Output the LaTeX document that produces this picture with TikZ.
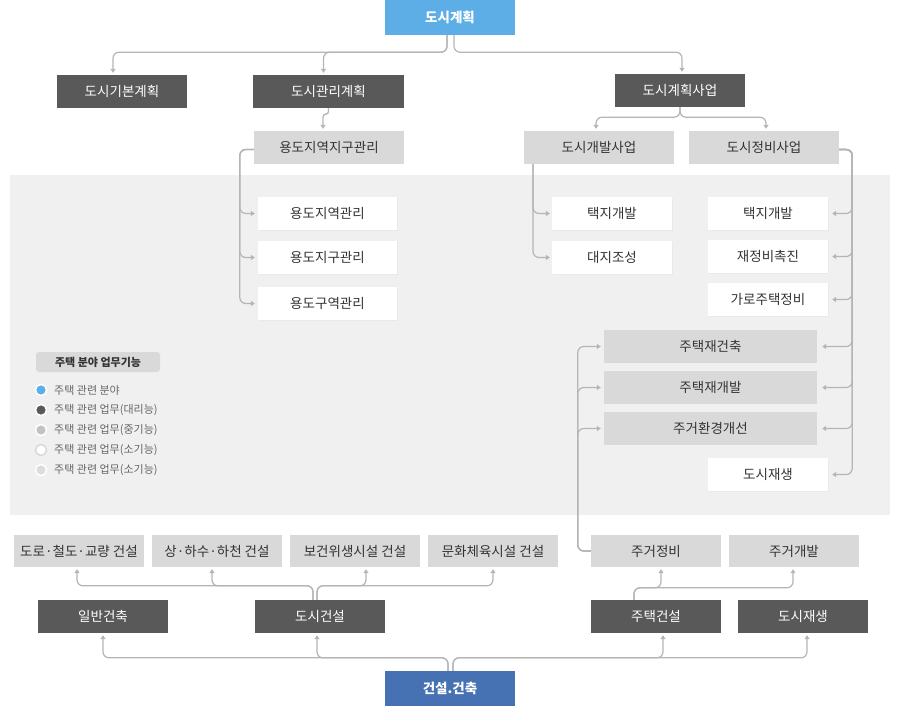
\documentclass[tikz,border=0pt]{standalone}
\usepackage{fontspec}
\setmainfont{Noto Sans CJK KR}
\usepackage{xcolor}
\usetikzlibrary{calc, arrows.meta, shadows}

\definecolor{planblue}{HTML}{5DADE6}
\definecolor{buildblue}{HTML}{4672B4}
\definecolor{boxdark}{HTML}{595959}
\definecolor{boxgrey}{HTML}{D9D9D9}
\definecolor{panelgrey}{HTML}{F0F0F0}
\definecolor{linegrey}{HTML}{B5B5B5}
\definecolor{textgrey}{HTML}{333333}
\definecolor{legendgrey}{HTML}{666666}
\definecolor{midgrey}{HTML}{C2C2C2}
\definecolor{lightgrey}{HTML}{DCDCDC}

\begin{document}
\begin{tikzpicture}[x=1pt, y=-1pt,
		box/.style={minimum width=130pt, minimum height=33pt, inner sep=0pt, text=textgrey, font=\fontsize{13.5pt}{16pt}\selectfont},
		bluebox/.style={box, minimum height=35pt, text=white, font=\fontsize{13.5pt}{16pt}\selectfont\bfseries},
		darkbox/.style={box, fill=boxdark, text=white},
		greybox/.style={box, fill=boxgrey},
		whitebox/.style={box, fill=white, drop shadow={opacity=0.06, shadow xshift=1pt, shadow yshift=-1pt}},
		link/.style={draw=linegrey, line width=1.2pt, rounded corners=6pt, -{Triangle[length=4pt, width=5pt]}, shorten >=2pt},
		dot/.style={circle, minimum size=11pt, inner sep=0pt, draw=white, line width=1.5pt},
		legendtext/.style={anchor=west, inner sep=0pt, text=legendgrey, font=\fontsize{11pt}{13pt}\selectfont}]

		\useasboundingbox (0,0) rectangle (900,726);
		\fill[panelgrey] (10,175) rectangle (890,515);

		\node[bluebox, fill=planblue] (cityplan) at (450,17.5) {도시계획};

		\node[darkbox] (basicplan) at (122,91.5) {도시기본계획};
		\node[darkbox, minimum width=151pt] (mgmtplan) at (328.5,91.5) {도시관리계획};
		\node[darkbox] (projplan) at (680,90.5) {도시계획사업};

		\node[greybox, minimum width=150pt] (zoning) at (329,147.5) {용도지역지구관리};
		\node[greybox, minimum width=150pt] (devproj) at (599,147.5) {도시개발사업};
		\node[greybox, minimum width=150pt] (renewproj) at (764,147.5) {도시정비사업};

		\node[whitebox, minimum width=139pt] (zonearea) at (327.5,213.5) {용도지역관리};
		\node[whitebox, minimum width=139pt] (zonedist) at (327.5,257.5) {용도지구관리};
		\node[whitebox, minimum width=139pt] (zonesect) at (327.5,303.5) {용도구역관리};

		\node[whitebox, minimum width=120pt] (landdev) at (612,213.5) {택지개발};
		\node[whitebox, minimum width=120pt] (sitework) at (612,257.5) {대지조성};

		\node[whitebox, minimum width=120pt] (landrenew) at (768,213.5) {택지개발};
		\node[whitebox, minimum width=120pt] (promote) at (768,256.5) {재정비촉진};
		\node[whitebox, minimum width=120pt] (street) at (768,299.5) {가로주택정비};

		\node[greybox, minimum width=213pt] (rebuild) at (710.5,346.5) {주택재건축};
		\node[greybox, minimum width=213pt] (redevelop) at (710.5,387.5) {주택재개발};
		\node[greybox, minimum width=213pt] (improve) at (710.5,428.5) {주거환경개선};
		\node[whitebox, minimum width=120pt] (regen) at (768,474.5) {도시재생};

		\node[box, fill=boxgrey, minimum width=124pt, minimum height=20pt, rounded corners=3pt, font=\fontsize{11pt}{13pt}\selectfont\bfseries] (legend) at (98,362) {주택 분야 업무기능};
		\node[dot, fill=planblue] (dotfield) at (41,390) {};
		\node[dot, fill=boxdark] (dotlarge) at (41,410) {};
		\node[dot, fill=midgrey] (dotmid) at (41,430) {};
		\node[dot, fill=white, draw=panelgrey!90!black] (dotsmall) at (41,450) {};
		\node[dot, fill=lightgrey] (dotsmalltoo) at (41,470) {};
		\node[legendtext] at (54,390) {주택 관련 분야};
		\node[legendtext] at (54,410) {주택 관련 업무(대리능)};
		\node[legendtext] at (54,430) {주택 관련 업무(중기능)};
		\node[legendtext] at (54,450) {주택 관련 업무(소기능)};
		\node[legendtext] at (54,470) {주택 관련 업무(소기능)};

		\node[greybox, minimum height=32pt] (road) at (79,551) {도로·철도·교량 건설};
		\node[greybox, minimum height=32pt] (sewer) at (217,551) {상·하수·하천 건설};
		\node[greybox, minimum height=32pt] (health) at (355,551) {보건위생시설 건설};
		\node[greybox, minimum height=32pt] (culture) at (493,551) {문화체육시설 건설};
		\node[greybox, minimum height=32pt] (resrenew) at (656,551) {주거정비};
		\node[greybox, minimum height=32pt] (resdev) at (794,551) {주거개발};

		\node[darkbox] (general) at (103,616.5) {일반건축};
		\node[darkbox] (cityconst) at (320,616.5) {도시건설};
		\node[darkbox] (housing) at (656,616.5) {주택건설};
		\node[darkbox] (regenwork) at (803,616.5) {도시재생};

		\node[bluebox, fill=buildblue] (construct) at (450,688.5) {건설.건축};

		\draw[link] ($(cityplan.south)+(-3,0)$) -- ++(0,17) -| ($(basicplan.north)+(-9,0)$);
		\draw[link] ($(cityplan.south)+(-3,0)$) -- ++(0,17) -| ($(mgmtplan.north)+(-5,0)$);
		\draw[link] ($(cityplan.south)+(4,0)$) -- ++(0,17) -| ($(projplan.north)+(2,0)$);

		\draw[link, rounded corners=3pt] (mgmtplan.south) -- ++(0,6) -| ($(zoning.north)+(-6,0)$);
		\draw[link] (projplan.south) -- ++(0,10) -| ($(devproj.north)+(-3,0)$);
		\draw[link] (projplan.south) -- ++(0,10) -| ($(renewproj.north)+(2,0)$);

		\draw[link, shorten >=3pt] ($(zoning.west)+(0,2)$) -| ($(zonearea.west)+(-18,0)$) -- (zonearea.west);
		\draw[link, shorten >=3pt] ($(zoning.west)+(0,2)$) -| ($(zonedist.west)+(-18,0)$) -- (zonedist.west);
		\draw[link, shorten >=3pt] ($(zoning.west)+(0,2)$) -| ($(zonesect.west)+(-18,0)$) -- (zonesect.west);

		\draw[link] ($(devproj.south)+(-66,0)$) |- (landdev.west);
		\draw[link] ($(devproj.south)+(-66,0)$) |- (sitework.west);

		\draw[link, shorten >=4pt] ($(renewproj.east)+(0,2)$) -| ($(landrenew.east)+(24,0)$) -- (landrenew.east);
		\draw[link, shorten >=4pt] ($(renewproj.east)+(0,2)$) -| ($(promote.east)+(24,0)$) -- (promote.east);
		\draw[link, shorten >=4pt] ($(renewproj.east)+(0,2)$) -| ($(street.east)+(24,0)$) -- (street.east);
		\draw[link, shorten >=5pt] ($(renewproj.east)+(0,2)$) -| ($(rebuild.east)+(35,0)$) -- (rebuild.east);
		\draw[link, shorten >=5pt] ($(renewproj.east)+(0,2)$) -| ($(redevelop.east)+(35,0)$) -- (redevelop.east);
		\draw[link, shorten >=5pt] ($(renewproj.east)+(0,2)$) -| ($(improve.east)+(35,0)$) -- (improve.east);
		\draw[link, shorten >=4pt] ($(renewproj.east)+(0,2)$) -| ($(regen.east)+(24,0)$) -- (regen.east);

		\draw[link, shorten >=3pt] (resrenew.west) -| ($(rebuild.west)+(-26,0)$) -- (rebuild.west);
		\draw[link, shorten >=3pt] (resrenew.west) -| ($(redevelop.west)+(-26,0)$) -- (redevelop.west);
		\draw[link, shorten >=3pt] (resrenew.west) -| ($(improve.west)+(-26,0)$) -- (improve.west);

		\draw[link] ($(cityconst.north)+(-7,0)$) -- ++(0,-14) -| ($(road.south)+(-2,0)$);
		\draw[link] ($(cityconst.north)+(-7,0)$) -- ++(0,-14) -| ($(sewer.south)+(-5,0)$);
		\draw[link] ($(cityconst.north)+(-3,0)$) -- ++(0,-14) -| ($(health.south)+(11,0)$);
		\draw[link] ($(cityconst.north)+(-3,0)$) -- ++(0,-14) -| (culture.south);

		\draw[link] ($(housing.north)+(-22,0)$) -- ++(0,-12) -| ($(resrenew.south)+(5,0)$);
		\draw[link] ($(housing.north)+(-22,0)$) -- ++(0,-12) -| ($(resdev.south)+(-1,0)$);

		\draw[link] ($(construct.north)+(-2,0)$) -- ++(0,-13) -| (general.south);
		\draw[link] ($(construct.north)+(-2,0)$) -- ++(0,-13) -| ($(cityconst.south)+(-3,0)$);
		\draw[link] ($(construct.north)+(3,0)$) -- ++(0,-13) -| ($(housing.south)+(7,0)$);
		\draw[link] ($(construct.north)+(3,0)$) -- ++(0,-13) -| ($(regenwork.south)+(4,0)$);
	\end{tikzpicture}
\end{document}
